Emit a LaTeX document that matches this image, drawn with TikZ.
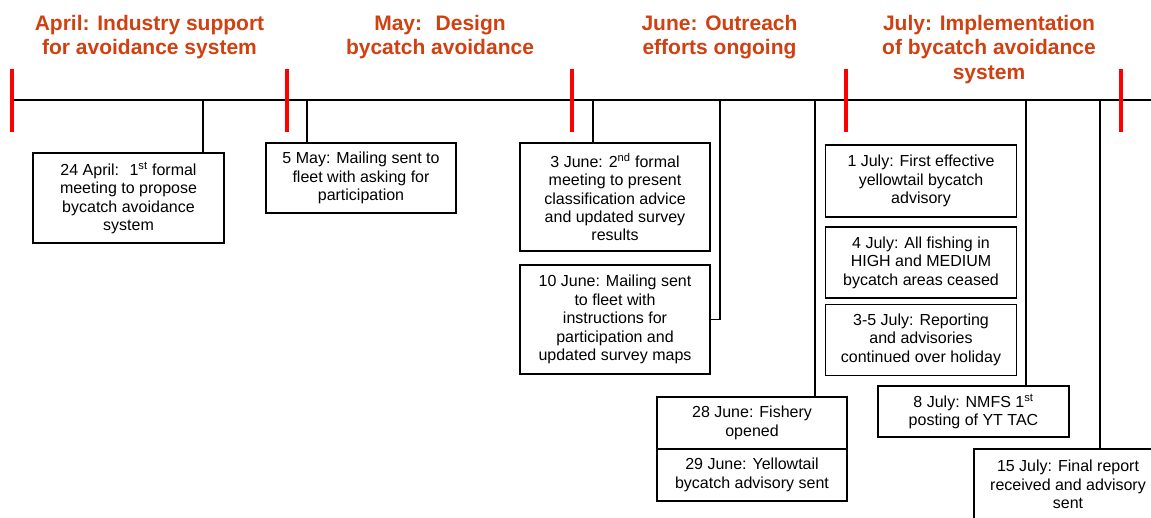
\documentclass[tikz,border=0pt]{standalone}
\usepackage{fontspec}
\setmainfont{Liberation Sans}
\usepackage{tikz}
\usetikzlibrary{positioning}
\definecolor{titleorange}{RGB}{208,64,16}

\begin{document}
\begin{tikzpicture}[x=1pt,y=-1pt,
		evbox/.style={draw,line width=1.5pt,align=center,inner sep=2pt,minimum width=191pt,
			font=\fontsize{16}{18.4}\selectfont},
		monthtitle/.style={anchor=north,inner sep=0pt,align=center,text=titleorange,
			font=\fontsize{21}{24.5}\selectfont\bfseries},
		monthtick/.style={red,line width=3.5pt}]
		\clip (0,0) rectangle (1151,517);
		\coordinate (tlstart) at (11,100);
		\coordinate (tlend) at (1151,100);
		\draw [line width=1.5pt] (tlstart) -- (tlend);
		\foreach \x in {12,287,572,846,1121}{
		    \draw [monthtick] (\x,69) -- (\x,132);
		}
		\node [monthtitle] (aprtitle) at (149.5,15) {April: Industry support\\for avoidance system};
		\node [monthtitle] (maytitle) at (440,15) {May:~ Design\\bycatch avoidance};
		\node [monthtitle] (juntitle) at (719.5,15) {June: Outreach\\efforts ongoing};
		\node [monthtitle] (jultitle) at (989,15) {July: Implementation\\of bycatch avoidance\\system};
		\node [evbox,minimum height=90pt] (apr24) at (128.5,198) {24 April:~ 1\textsuperscript{st} formal\\meeting to propose\\bycatch avoidance\\system};
		\node [evbox,minimum width=190pt,minimum height=70pt] (may5) at (361,178) {5 May: Mailing sent to\\fleet with asking for\\participation};
		\node [evbox,minimum width=190pt,minimum height=108pt] (jun3) at (615,197) {3 June: 2\textsuperscript{nd} formal\\meeting to present\\classification advice\\and updated survey\\results};
		\node [evbox,minimum width=190pt,minimum height=109pt] (jun10) at (615,319.5) {10 June: Mailing sent\\to fleet with\\instructions for\\participation and\\updated survey maps};
		\node [evbox,minimum width=190pt,minimum height=52pt] (jun28) at (752,423) {28 June: Fishery\\opened};
		\node [evbox,minimum width=190pt,minimum height=52pt] (jun29) at (752,475) {29 June: Yellowtail\\bycatch advisory sent};
		\node [evbox,minimum height=72pt] (jul1) at (921,181) {1 July: First effective\\yellowtail bycatch\\advisory};
		\node [evbox,minimum height=71pt] (jul4) at (921,262.5) {4 July: All fishing in\\HIGH and MEDIUM\\bycatch areas ceased};
		\node [evbox,line width=1pt,minimum height=71pt] (jul3to5) at (921,339.5) {3-5 July: Reporting\\and advisories\\continued over holiday};
		\node [evbox,minimum height=51pt] (jul8) at (973.5,411.5) {8 July: NMFS 1\textsuperscript{st}\\posting of YT TAC};
		\node [evbox,minimum width=188pt,minimum height=71pt] (jul15) at (1068,484.5) {15 July: Final report\\received and advisory\\sent};
		\coordinate (tapr24) at (203,100);
		\coordinate (tmay5) at (307,100);
		\coordinate (tjun3) at (593,100);
		\coordinate (tjun10) at (720,100);
		\coordinate (tjun28) at (815,100);
		\coordinate (tjul8) at (1026,100);
		\coordinate (tjul15) at (1100,100);
		\draw [line width=1.5pt] (tapr24) -- (tapr24 |- apr24.north);
		\draw [line width=1.5pt] (tmay5) -- (tmay5 |- may5.north);
		\draw [line width=1.5pt] (tjun3) -- (tjun3 |- jun3.north);
		\draw [line width=1.5pt] (tjun10) |- (jun10.east);
		\draw [line width=1.5pt] (tjun28) -- (tjun28 |- jun28.north);
		\draw [line width=1.5pt] (tjul8) -- (tjul8 |- jul8.north);
		\draw [line width=1.5pt] (tjul15) -- (tjul15 |- jul15.north);
	\end{tikzpicture}
\end{document}
